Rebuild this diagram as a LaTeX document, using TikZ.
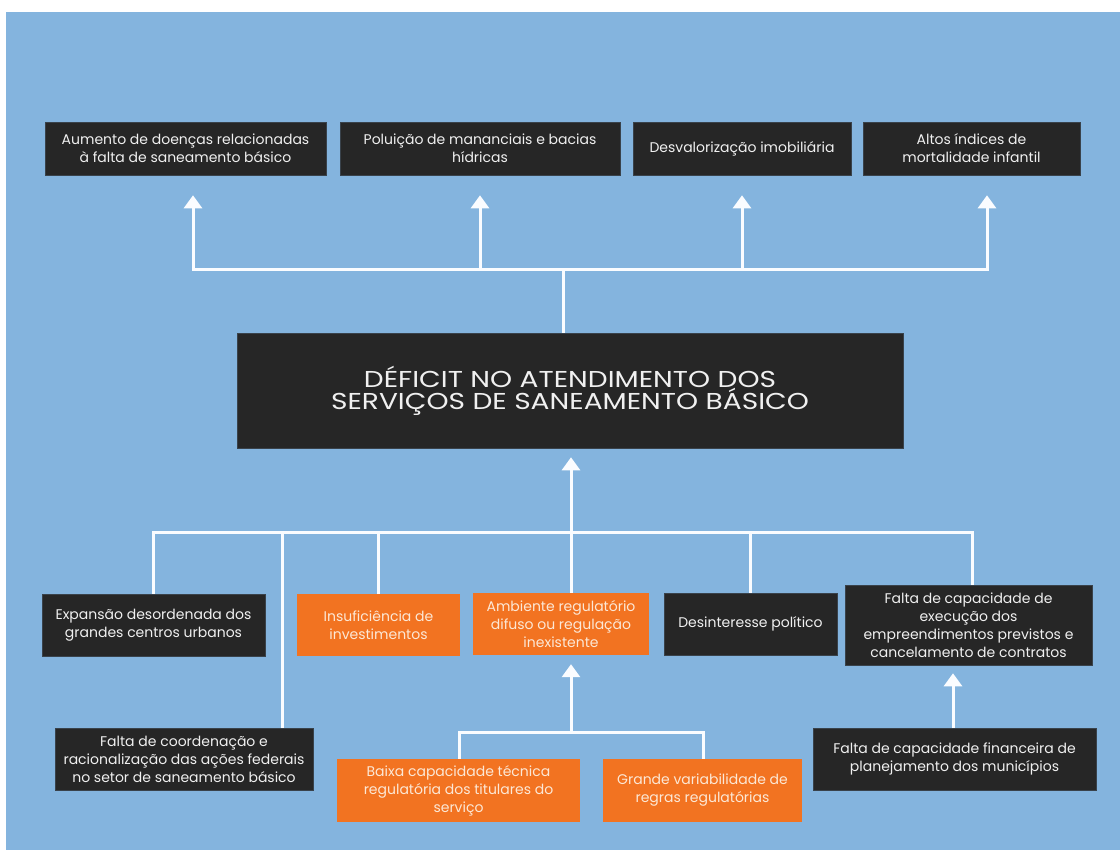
\documentclass[tikz,border=0pt]{standalone}
\usepackage{fontspec}
\setmainfont{Poppins}
\newfontfamily\headlinefont[FakeStretch=1.22]{Poppins}
\usetikzlibrary{arrows.meta}
\definecolor{bgblue}{RGB}{132,180,222}
\definecolor{darkbox}{RGB}{38,38,38}
\definecolor{orangebox}{RGB}{242,115,33}
\definecolor{lighttext}{RGB}{240,240,240}
\definecolor{creamtext}{RGB}{252,232,214}
\definecolor{linkcol}{RGB}{250,252,255}
\tikzset{
  darkcard/.style={rectangle, fill=darkbox, draw=darkbox!80!bgblue, line width=0.6pt,
    inner sep=0pt, align=center, text=lighttext,
    font=\fontsize{14}{18}\selectfont},
  orangecard/.style={rectangle, fill=orangebox, draw=none,
    inner sep=0pt, align=center, text=creamtext,
    font=\fontsize{14}{18}\selectfont},
  link/.style={draw=linkcol, line width=3pt},
  uparrow/.style={draw=linkcol, line width=3pt,
    -{Triangle[width=18pt,length=13pt]}}
}
\begin{document}
\begin{tikzpicture}[x=1pt,y=-1pt]
\useasboundingbox (0,0) rectangle (1120,850);
\fill[white] (0,0) rectangle (1120,850);
\fill[bgblue] (6,12) rectangle (1120,850);

% consequences (top row)
\node[darkcard, minimum width=281pt, minimum height=53pt] (t1) at (185.5,148.5)
  {Aumento de doenças relacionadas\\à falta de saneamento básico};
\node[darkcard, minimum width=280pt, minimum height=53pt] (t2) at (480,148.5)
  {Poluição de mananciais e bacias\\hídricas};
\node[darkcard, minimum width=218pt, minimum height=53pt] (t3) at (742,148.5)
  {Desvalorização imobiliária};
\node[darkcard, minimum width=217pt, minimum height=53pt] (t4) at (971.5,148.5)
  {Altos índices de\\mortalidade infantil};

% central problem
\node[darkcard, minimum width=666pt, minimum height=115pt,
      font=\headlinefont\fontsize{23}{22}\selectfont] (main) at (570,390.5)
  {DÉFICIT NO ATENDIMENTO DOS\\SERVIÇOS DE SANEAMENTO BÁSICO};

% causes
\node[darkcard, minimum width=223pt, minimum height=62pt] (b1) at (153.5,625)
  {Expansão desordenada dos\\grandes centros urbanos};
\node[orangecard, minimum width=163pt, minimum height=62pt] (b2) at (378.5,625)
  {Insuficiência de\\investimentos};
\node[orangecard, minimum width=176pt, minimum height=62pt] (b3) at (561,624)
  {Ambiente regulatório\\difuso ou regulação\\inexistente};
\node[darkcard, minimum width=173pt, minimum height=62pt] (b4) at (750.5,624)
  {Desinteresse político};
\node[darkcard, minimum width=247pt, minimum height=80pt] (b5) at (968.5,625)
  {Falta de capacidade de\\execução dos\\empreendimentos previstos e\\cancelamento de contratos};
\node[darkcard, minimum width=258pt, minimum height=62pt] (c1) at (184,759)
  {Falta de coordenação e\\racionalização das ações federais\\no setor de saneamento básico};
\node[darkcard, minimum width=283pt, minimum height=62pt] (c2) at (954.5,759)
  {Falta de capacidade financeira de\\planejamento dos municípios};
\node[orangecard, minimum width=243pt, minimum height=63pt] (d1) at (458.5,790.5)
  {Baixa capacidade técnica\\regulatória dos titulares do\\serviço};
\node[orangecard, minimum width=199pt, minimum height=63pt] (d2) at (702.5,790.5)
  {Grande variabilidade de\\regras regulatórias};

% upper tree: problem -> consequences
\coordinate (tj) at (563,270);
\coordinate (tl) at (193,270);
\coordinate (tr) at (987,270);
\draw[link] (tj |- main.north) -- (tj);
\draw[link, line cap=rect] (tl) -- (tr);
\draw[uparrow, shorten >=20pt] (tl) -- (tl |- t1.south);
\draw[uparrow, shorten >=20pt] (tj -| t2.south) -- (t2.south);
\draw[uparrow, shorten >=20pt] (tj -| t3.south) -- (t3.south);
\draw[uparrow, shorten >=20pt] (tr) -- (tr |- t4.south);

% lower tree: causes -> problem
\coordinate (bj) at (571,532);
\coordinate (bl) at (153,532);
\coordinate (br) at (972,532);
\coordinate (bc) at (282,532);
\draw[uparrow, shorten >=9pt] (bj) -- (bj |- main.south);
\draw[link, line cap=rect] (bl) -- (br);
\draw[link] (bl) -- (bl |- b1.north);
\draw[link] (bc) -- (bc |- c1.north);
\draw[link] (bj -| b2.north) -- (b2.north);
\draw[link] (bj) -- (bj |- b3.north);
\draw[link] (bj -| b4.north) -- (b4.north);
\draw[link] (br) -- (br |- b5.north);

% regulatory sub-causes
\coordinate (rj) at (571,732);
\coordinate (rl) at (459,732);
\coordinate (rr) at (703,732);
\draw[uparrow, shorten >=9pt] (rj) -- (rj |- b3.south);
\draw[link, line cap=rect] (rl) -- (rr);
\draw[link] (rl) -- (rl |- d1.north);
\draw[link] (rr) -- (rr |- d2.north);

% financial capacity -> execution capacity
\coordinate (fj) at (953,728);
\draw[uparrow, shorten >=8pt] (fj) -- (fj |- b5.south);
\end{tikzpicture}
\end{document}
